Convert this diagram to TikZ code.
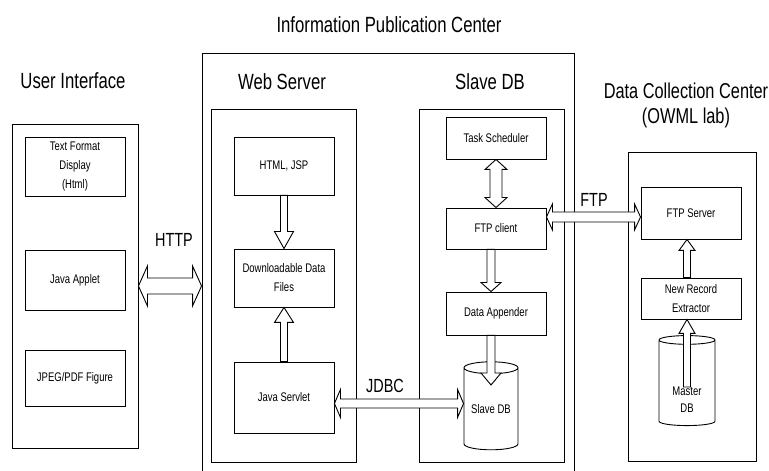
\documentclass[tikz,border=0pt]{standalone}
\usepackage{fontspec}
\setmainfont[FakeStretch=0.76]{Liberation Sans}
\usetikzlibrary{calc,shapes.geometric}

% hollow block arrows: start, end, shaft half width, head half width, head length
\newcommand{\fatarrow}[5]{%
\draw[hollow] let \p1=(#1), \p2=(#2), \n1={atan2(\y2-\y1,\x2-\x1)}, \n2={veclen(\x2-\x1,\y2-\y1)} in
  [shift={(\p1)},rotate=\n1] (0,-#3) -- ({\n2-#5},-#3) -- ({\n2-#5},-#4) -- (\n2,0)
  -- ({\n2-#5},#4) -- ({\n2-#5},#3) -- (0,#3) -- cycle;}
\newcommand{\fatdarrow}[5]{%
\draw[hollow] let \p1=(#1), \p2=(#2), \n1={atan2(\y2-\y1,\x2-\x1)}, \n2={veclen(\x2-\x1,\y2-\y1)} in
  [shift={(\p1)},rotate=\n1] (0,0) -- (#5,-#4) -- (#5,-#3) -- ({\n2-#5},-#3) -- ({\n2-#5},-#4) -- (\n2,0)
  -- ({\n2-#5},#4) -- ({\n2-#5},#3) -- (#5,#3) -- (#5,#4) -- cycle;}

\begin{document}
\begin{tikzpicture}[x=1pt,y=1pt,
  frame/.style={draw,line width=0.9pt,inner sep=0pt},
  unit/.style={draw,fill=white,line width=0.9pt,inner sep=0pt,minimum width=100pt,align=center,
    font={\fontsize{12.5}{19}\selectfont}},
  unittext/.style={inner sep=0pt,align=center,font={\fontsize{12.5}{17}\selectfont}},
  dbcyl/.style={cylinder,shape border rotate=90,aspect=0.3,draw,fill=white,line width=0.9pt,
    inner sep=0pt,font={\fontsize{12.5}{17}\selectfont}},
  title/.style={inner sep=0pt,align=center,font={\fontsize{22}{25}\selectfont}},
  link/.style={inner sep=0pt,font={\fontsize{19}{22}\selectfont}},
  hollow/.style={draw,fill=white,line width=0.9pt,line join=miter}]

\useasboundingbox (0,0) rectangle (769,471);

% user interface
\node[frame,minimum width=126pt,minimum height=324pt] (ui) at (75,185) {};
\node[title] (uilbl) at (73,390) {User Interface};
\node[unit,minimum height=59pt] (txt) at (75,304.5) {Text Format\\Display\\(Html)};
\node[unit,minimum height=60pt] (applet) at (75,191) {Java Applet};
\node[unit,minimum height=56pt] (jpeg) at (75,93) {JPEG/PDF Figure};

% information publication center
\node[frame,minimum width=372pt,minimum height=428pt] (ipc) at (388,204) {};
\node[title] (ipclbl) at (389,446) {Information Publication Center};
\node[title] (weblbl) at (282,389.5) {Web Server};
\node[title] (slavelbl) at (490,389.5) {Slave DB};
\node[frame,minimum width=145pt,minimum height=353pt] (web) at (283.5,185.5) {};
\node[frame,minimum width=145pt,minimum height=353pt] (slave) at (491.5,185.5) {};
\node[unit,minimum height=58pt] (html) at (284,305) {HTML, JSP};
\node[unit,minimum height=58pt] (files) at (284,193) {Downloadable Data\\Files};
\node[unit,minimum height=71pt] (servlet) at (284,73.5) {Java Servlet};
\node[unit,minimum height=42pt] (sched) at (496,333) {Task Scheduler};
\node[unit,minimum height=41pt] (ftpc) at (496,242.5) {FTP client};
\node[unit,minimum height=43pt] (append) at (496,157.5) {Data Appender};
\node[dbcyl,minimum width=54pt,minimum height=88pt] (slavedb) at (491,62) {Slave DB};

% data collection center
\node[frame,minimum width=128pt,minimum height=309pt] (dcc) at (692,164.5) {};
\node[title,font={\fontsize{21.5}{25}\selectfont}] (dcclbl) at (686,365.5) {Data Collection Center\\(OWML lab)};
\node[unit,minimum height=52pt] (ftps) at (691,258) {FTP Server};
\node[unit,minimum height=41pt] (extract) at (691,172.5) {New Record\\Extractor};
\node[dbcyl,minimum width=56pt,minimum height=90pt] (master) at (687,88) {\phantom{Master}};

% links
\node[link] (httplbl) at (174,231.5) {HTTP};
\node[link] (ftplbl) at (594,271.5) {FTP};
\node[link] (jdbclbl) at (385,85.5) {JDBC};

\coordinate (sdbin) at ([yshift=24pt]slavedb.center);
\coordinate (jd) at ([yshift=-6pt]servlet.east);
\coordinate (ff) at ([yshift=11.5pt]ftpc.east);
\coordinate (mdbout) at ([yshift=-4pt]master.center);

\fatdarrow{ui.east}{ui.east -| ipc.west}{8}{20}{9}
\fatarrow{html.south}{files.north}{3.5}{9.5}{17}
\fatarrow{servlet.north}{files.south}{3.5}{9.5}{15}
\fatdarrow{sched.south}{ftpc.north}{6}{11}{10}
\fatarrow{sdbin |- ftpc.south}{sdbin |- append.north}{4}{10}{9}
\fatarrow{sdbin |- append.south}{sdbin}{4}{10}{12}
\fatdarrow{jd}{jd -| slavedb.west}{4.5}{14}{6}
\fatdarrow{ff}{ff -| ftps.west}{5}{13}{6}
\fatarrow{mdbout}{master |- extract.south}{3.5}{8}{14}
\fatarrow{master |- extract.north}{master |- ftps.south}{3.5}{8}{11}

\node[unittext] (masterlbl) at (687,71) {Master\\DB};
\end{tikzpicture}
\end{document}
